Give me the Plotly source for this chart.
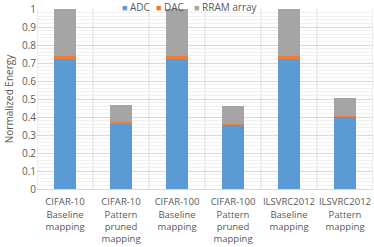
import plotly.graph_objects as go

categories = ["CIFAR-10<br>Baseline<br>mapping", "CIFAR-10<br>Pattern<br>pruned<br>mapping",
              "CIFAR-100<br>Baseline<br>mapping", "CIFAR-100<br>Pattern<br>pruned<br>mapping",
              "ILSVRC2012<br>Baseline<br>mapping", "ILSVRC2012<br>Pattern<br>mapping"]
series_names = ["ADC", "DAC", "RRAM array"]
adc = [0.727, 0.366, 0.727, 0.358, 0.727, 0.400]
dac = [0.010, 0.005, 0.010, 0.005, 0.010, 0.005]
rram = [0.263, 0.097, 0.263, 0.100, 0.263, 0.098]

colors = {"ADC": "#5B9BD5", "DAC": "#ED7D31", "RRAM array": "#A5A5A5"}

fig = go.Figure()
for name, vals in zip(series_names, [adc, dac, rram]):
    fig.add_trace(go.Bar(x=categories, y=vals, name=name, marker_color=colors[name],
                         marker_line_width=0, width=0.41, showlegend=False))

L, R, T, B, W, H = 37, 1, 9, 58, 374, 247
fig.update_layout(
    barmode="stack",
    width=W, height=H,
    margin=dict(l=L, r=R, t=T, b=B),
    paper_bgcolor="white", plot_bgcolor="white",
    font=dict(family="Open Sans, Liberation Sans, sans-serif", size=10, color="#595959"),
    bargap=0.59,
)

# legend row (top, centered) built as text entries
legend_px = [121, 155, 193]
pw = W - L - R
ph = H - T - B
for name, px in zip(series_names, legend_px):
    fig.add_annotation(xref="paper", yref="paper", x=(px - L) / pw, y=1 + (T + 1) / ph,
                       xanchor="left", yanchor="top", showarrow=False, borderpad=0,
                       text=f"<span style='color:{colors[name]};font-size:9px'>■</span> {name}",
                       font=dict(size=10, color="#595959"))

fig.update_yaxes(range=[0, 1], dtick=0.1, tickformat="~g", showgrid=True, gridcolor="#D9D9D9",
                 gridwidth=1, minor=dict(dtick=0.02, showgrid=True, gridcolor="#F0F0F0"),
                 zeroline=False, showline=False, ticks="",
                 title=dict(text="Normalized Energy", font=dict(size=10, color="#595959"), standoff=6),
                 tickfont=dict(size=10, color="#595959"))
fig.update_xaxes(showgrid=False, showline=True, linecolor="#D9D9D9", ticks="",
                 ticklabelstandoff=4,
                 tickfont=dict(size=9.5, color="#595959"), tickangle=0)
for i in range(len(categories) + 1):
    fig.add_shape(type="line", xref="x", yref="paper", x0=i - 0.5, x1=i - 0.5, y0=0, y1=1,
                  line=dict(color="#D9D9D9", width=1), layer="below")
fig.update_xaxes(range=[-0.5, len(categories) - 0.5])

fig.write_html("out.html", config={"displayModeBar": False},
               post_script="document.body.style.margin='0';")
